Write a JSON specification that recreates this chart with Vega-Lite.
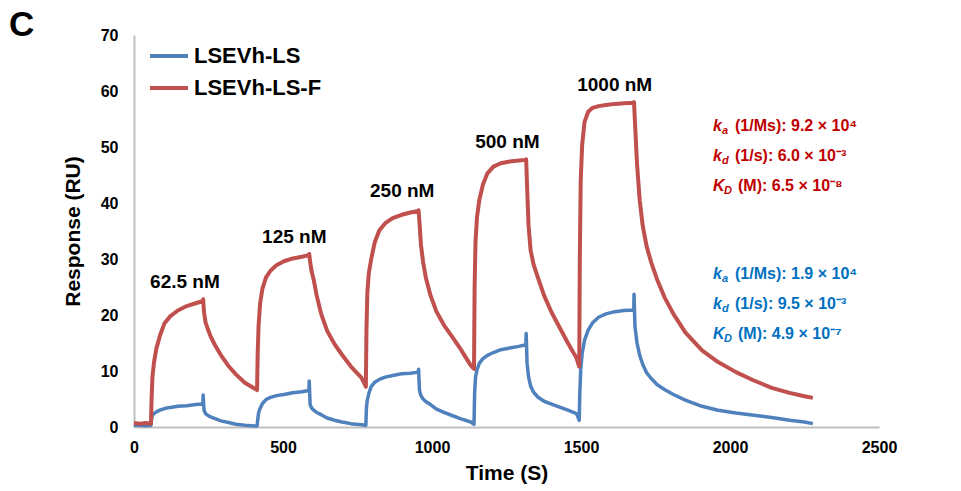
{
  "$schema": "https://vega.github.io/schema/vega-lite/v6.json",
  "width": 745,
  "height": 392,
  "autosize": {"type": "none"},
  "padding": {"left": 134, "top": 35, "right": 82, "bottom": 64},
  "background": "white",
  "title": {"text": "C", "anchor": "start", "frame": "group", "fontSize": 35, "fontWeight": "bold", "color": "black", "dx": -125, "dy": 16, "offset": 0, "font": "Liberation Sans"},
  "config": {
    "view": {"stroke": null},
    "font": "Liberation Sans",
    "axis": {"grid": false, "ticks": false, "tickSize": 0, "domainColor": "#BFBFBF", "domainWidth": 2, "labelFontSize": 16, "labelFontWeight": "bold", "labelColor": "black", "titleFontSize": 21, "titleFontWeight": "bold", "titleColor": "black", "labelFlush": false, "labelOverlap": false, "format": "d"}
  },
  "datasets": {
    "sensor": [
      {"t": 0, "b": 0.3, "r": 0.7}, {"t": 20, "b": 0.3, "r": 0.6}, {"t": 40, "b": 0.2, "r": 0.7}, {"t": 57, "b": 0.3, "r": 0.6},
      {"t": 59, "b": 1.5, "r": 5}, {"t": 62, "b": 2.1, "r": 9}, {"t": 67, "b": 2.4, "r": 11.5}, {"t": 75, "b": 2.7, "r": 14},
      {"t": 87, "b": 3.0, "r": 16.3}, {"t": 102, "b": 3.3, "r": 18.5}, {"t": 122, "b": 3.5, "r": 19.8}, {"t": 147, "b": 3.7, "r": 20.8},
      {"t": 177, "b": 3.8, "r": 21.6}, {"t": 207, "b": 4.0, "r": 22.1}, {"t": 231, "b": 4.1, "r": 22.5}, {"t": 232, "b": 5.7, "r": 22.8},
      {"t": 235, "b": 3.0, "r": 20.5}, {"t": 240, "b": 2.4, "r": 18.7}, {"t": 247, "b": 2.1, "r": 17.6}, {"t": 257, "b": 1.8, "r": 16.2},
      {"t": 272, "b": 1.5, "r": 14.6}, {"t": 292, "b": 1.1, "r": 12.8}, {"t": 317, "b": 0.8, "r": 10.9}, {"t": 342, "b": 0.5, "r": 9.4},
      {"t": 372, "b": 0.3, "r": 7.9}, {"t": 407, "b": 0.2, "r": 6.8}, {"t": 413, "b": 0.2, "r": 6.6}, {"t": 415, "b": 1.2, "r": 13},
      {"t": 418, "b": 2.5, "r": 18}, {"t": 423, "b": 3.3, "r": 22}, {"t": 431, "b": 4.2, "r": 24.7}, {"t": 443, "b": 4.9, "r": 26.7},
      {"t": 458, "b": 5.3, "r": 27.9}, {"t": 478, "b": 5.6, "r": 28.9}, {"t": 503, "b": 5.8, "r": 29.6}, {"t": 533, "b": 6.1, "r": 30.1},
      {"t": 563, "b": 6.3, "r": 30.4}, {"t": 587, "b": 6.5, "r": 30.7}, {"t": 588, "b": 8.2, "r": 30.9}, {"t": 591, "b": 4.0, "r": 29.5},
      {"t": 596, "b": 3.4, "r": 27.8}, {"t": 603, "b": 3.0, "r": 26.3}, {"t": 613, "b": 2.6, "r": 23.5}, {"t": 628, "b": 2.2, "r": 20.2},
      {"t": 648, "b": 1.6, "r": 17.2}, {"t": 673, "b": 1.2, "r": 14.8}, {"t": 698, "b": 0.9, "r": 12.9}, {"t": 728, "b": 0.6, "r": 10.8},
      {"t": 763, "b": 0.4, "r": 8.8}, {"t": 778, "b": 0.3, "r": 7.2}, {"t": 780, "b": 3.5, "r": 17}, {"t": 783, "b": 4.8, "r": 24},
      {"t": 788, "b": 6.0, "r": 27.5}, {"t": 796, "b": 7.2, "r": 30.0}, {"t": 808, "b": 8.0, "r": 33.0}, {"t": 823, "b": 8.5, "r": 35.1},
      {"t": 843, "b": 8.9, "r": 36.4}, {"t": 868, "b": 9.2, "r": 37.3}, {"t": 898, "b": 9.5, "r": 37.9}, {"t": 928, "b": 9.6, "r": 38.3},
      {"t": 954, "b": 9.8, "r": 38.6}, {"t": 955, "b": 10.3, "r": 38.7}, {"t": 958, "b": 6.5, "r": 36.5}, {"t": 963, "b": 5.6, "r": 32.5},
      {"t": 970, "b": 5.0, "r": 29.5}, {"t": 980, "b": 4.5, "r": 26.5}, {"t": 995, "b": 4.0, "r": 23.5}, {"t": 1015, "b": 3.2, "r": 20.6},
      {"t": 1040, "b": 2.6, "r": 18.2}, {"t": 1065, "b": 2.1, "r": 16.3}, {"t": 1095, "b": 1.5, "r": 14.0}, {"t": 1130, "b": 0.9, "r": 11.0},
      {"t": 1141, "b": 0.5, "r": 10.4}, {"t": 1143, "b": 6, "r": 25}, {"t": 1146, "b": 8.9, "r": 33}, {"t": 1151, "b": 10.2, "r": 37.5},
      {"t": 1159, "b": 11.4, "r": 40.6}, {"t": 1171, "b": 12.2, "r": 43.3}, {"t": 1186, "b": 12.8, "r": 45.3}, {"t": 1206, "b": 13.3, "r": 46.5},
      {"t": 1231, "b": 13.8, "r": 47.1}, {"t": 1261, "b": 14.1, "r": 47.4}, {"t": 1291, "b": 14.4, "r": 47.6}, {"t": 1315, "b": 14.7, "r": 47.7},
      {"t": 1316, "b": 16.7, "r": 47.8}, {"t": 1319, "b": 11.4, "r": 43}, {"t": 1324, "b": 9.0, "r": 36}, {"t": 1331, "b": 7.3, "r": 31.5},
      {"t": 1341, "b": 6.2, "r": 29.0}, {"t": 1356, "b": 5.3, "r": 26.6}, {"t": 1376, "b": 4.6, "r": 23.5}, {"t": 1401, "b": 4.1, "r": 20.5},
      {"t": 1426, "b": 3.6, "r": 18.0}, {"t": 1456, "b": 3.0, "r": 15.0}, {"t": 1485, "b": 2.4, "r": 12.3}, {"t": 1494, "b": 1.2, "r": 10.8},
      {"t": 1496, "b": 6, "r": 30}, {"t": 1499, "b": 10.2, "r": 44}, {"t": 1504, "b": 13.2, "r": 50.5}, {"t": 1512, "b": 15.5, "r": 54.5},
      {"t": 1524, "b": 17.3, "r": 56.3}, {"t": 1539, "b": 18.6, "r": 57.0}, {"t": 1559, "b": 19.6, "r": 57.3}, {"t": 1584, "b": 20.2, "r": 57.5},
      {"t": 1614, "b": 20.6, "r": 57.7}, {"t": 1644, "b": 20.8, "r": 57.8}, {"t": 1677, "b": 20.9, "r": 57.9}, {"t": 1678, "b": 23.7, "r": 58.0},
      {"t": 1681, "b": 18.0, "r": 54.5}, {"t": 1688, "b": 15.0, "r": 47}, {"t": 1697, "b": 12.8, "r": 40.5}, {"t": 1707, "b": 11.2, "r": 36.0},
      {"t": 1720, "b": 9.7, "r": 32.3}, {"t": 1735, "b": 8.7, "r": 29.5}, {"t": 1755, "b": 7.6, "r": 26.4}, {"t": 1780, "b": 6.7, "r": 23.2},
      {"t": 1810, "b": 5.8, "r": 20.2}, {"t": 1850, "b": 4.8, "r": 16.9}, {"t": 1906, "b": 3.7, "r": 13.7}, {"t": 1960, "b": 3.0, "r": 11.6},
      {"t": 2020, "b": 2.5, "r": 9.8}, {"t": 2080, "b": 2.1, "r": 8.3}, {"t": 2140, "b": 1.7, "r": 7.0}, {"t": 2200, "b": 1.2, "r": 6.1},
      {"t": 2250, "b": 0.9, "r": 5.5}, {"t": 2278, "b": 0.6, "r": 5.2}
    ],
    "conc": [
      {"t": 171, "v": 25.9, "label": "62.5 nM"},
      {"t": 538, "v": 33.9, "label": "125 nM"},
      {"t": 900, "v": 42.1, "label": "250 nM"},
      {"t": 1253, "v": 50.9, "label": "500 nM"},
      {"t": 1613, "v": 61.1, "label": "1000 nM"}
    ],
    "kin": [
      {"grp": "F", "sym": "k", "sub": "a", "rest": "(1/Ms): 9.2 × 10⁴", "t": 1943, "v": 53.75},
      {"grp": "F", "sym": "k", "sub": "d", "rest": "(1/s): 6.0 × 10⁻³", "t": 1943, "v": 48.4},
      {"grp": "F", "sym": "K", "sub": "D", "rest": "(M): 6.5 × 10⁻⁸", "t": 1943, "v": 43.0},
      {"grp": "L", "sym": "k", "sub": "a", "rest": "(1/Ms): 1.9 × 10⁴", "t": 1943, "v": 27.3},
      {"grp": "L", "sym": "k", "sub": "d", "rest": "(1/s): 9.5 × 10⁻³", "t": 1943, "v": 22.0},
      {"grp": "L", "sym": "K", "sub": "D", "rest": "(M): 4.9 × 10⁻⁷", "t": 1943, "v": 16.6}
    ]
  },
  "layer": [
    {
      "data": {"name": "sensor"},
      "transform": [{"fold": ["b", "r"], "as": ["series", "v"]}],
      "mark": {"type": "line", "strokeJoin": "round"},
      "encoding": {
        "x": {"field": "t", "type": "quantitative", "scale": {"domain": [0, 2500], "nice": false},
              "axis": {"values": [0, 500, 1000, 1500, 2000, 2500], "title": "Time (S)", "labelPadding": 12, "titlePadding": 7}},
        "y": {"field": "v", "type": "quantitative", "scale": {"domain": [0, 70], "nice": false},
              "axis": {"values": [0, 10, 20, 30, 40, 50, 60, 70], "title": "Response (RU)", "labelPadding": 16, "titlePadding": 17}},
        "strokeWidth": {"field": "series", "type": "nominal", "scale": {"domain": ["b", "r"], "range": [3.5, 4]}, "legend": null},
        "color": {"field": "series", "type": "nominal", "scale": {"domain": ["b", "r"], "range": ["#4F81BD", "#C0504D"]},
                  "legend": {"orient": "none", "legendX": 14, "legendY": 0, "title": null, "symbolType": "stroke", "symbolSize": 1444, "symbolStrokeWidth": 4, "rowPadding": 0, "padding": 0, "labelFontSize": 22, "labelFontWeight": "bold", "labelColor": "black", "labelOffset": 4, "labelLimit": 300,
                             "labelExpr": "datum.label == 'b' ? 'LSEVh-LS' : 'LSEVh-LS-F'"}}
      }
    },
    {
      "data": {"name": "conc"},
      "mark": {"type": "text", "fontSize": 19, "fontWeight": "bold", "color": "black", "align": "center", "baseline": "middle"},
      "encoding": {"x": {"field": "t", "type": "quantitative"}, "y": {"field": "v", "type": "quantitative"}, "text": {"field": "label"}}
    },
    {
      "data": {"name": "kin"},
      "mark": {"type": "text", "fontSize": 16, "fontWeight": "bold", "fontStyle": "italic", "align": "left", "baseline": "middle"},
      "encoding": {"x": {"field": "t", "type": "quantitative"}, "y": {"field": "v", "type": "quantitative"}, "text": {"field": "sym"},
                   "color": {"field": "grp", "type": "nominal", "scale": {"domain": ["F", "L"], "range": ["#C00000", "#0070C0"]}, "legend": null}}
    },
    {
      "data": {"name": "kin"},
      "transform": [{"filter": "datum.sym == 'k'"}],
      "mark": {"type": "text", "fontSize": 11, "fontWeight": "bold", "fontStyle": "italic", "align": "left", "baseline": "middle", "dx": 9, "dy": 5},
      "encoding": {"x": {"field": "t", "type": "quantitative"}, "y": {"field": "v", "type": "quantitative"}, "text": {"field": "sub"},
                   "color": {"field": "grp", "type": "nominal", "scale": {"domain": ["F", "L"], "range": ["#C00000", "#0070C0"]}, "legend": null}}
    },
    {
      "data": {"name": "kin"},
      "transform": [{"filter": "datum.sym == 'K'"}],
      "mark": {"type": "text", "fontSize": 11, "fontWeight": "bold", "fontStyle": "italic", "align": "left", "baseline": "middle", "dx": 11, "dy": 5},
      "encoding": {"x": {"field": "t", "type": "quantitative"}, "y": {"field": "v", "type": "quantitative"}, "text": {"field": "sub"},
                   "color": {"field": "grp", "type": "nominal", "scale": {"domain": ["F", "L"], "range": ["#C00000", "#0070C0"]}, "legend": null}}
    },
    {
      "data": {"name": "kin"},
      "transform": [{"filter": "datum.sym == 'k'"}],
      "mark": {"type": "text", "fontSize": 16, "fontWeight": "bold", "align": "left", "baseline": "middle", "dx": 22},
      "encoding": {"x": {"field": "t", "type": "quantitative"}, "y": {"field": "v", "type": "quantitative"}, "text": {"field": "rest"},
                   "color": {"field": "grp", "type": "nominal", "scale": {"domain": ["F", "L"], "range": ["#C00000", "#0070C0"]}, "legend": null}}
    },
    {
      "data": {"name": "kin"},
      "transform": [{"filter": "datum.sym == 'K'"}],
      "mark": {"type": "text", "fontSize": 16, "fontWeight": "bold", "align": "left", "baseline": "middle", "dx": 25},
      "encoding": {"x": {"field": "t", "type": "quantitative"}, "y": {"field": "v", "type": "quantitative"}, "text": {"field": "rest"},
                   "color": {"field": "grp", "type": "nominal", "scale": {"domain": ["F", "L"], "range": ["#C00000", "#0070C0"]}, "legend": null}}
    }
  ],
  "resolve": {"scale": {"color": "independent"}}
}
